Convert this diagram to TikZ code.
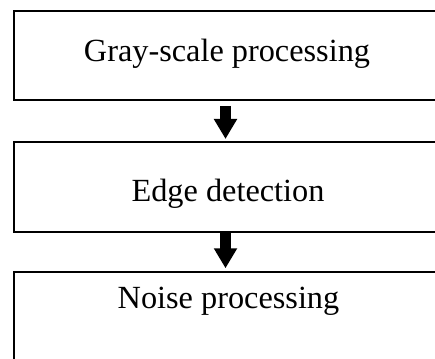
\documentclass[tikz,border=0pt]{standalone}
\usepackage{fontspec}
\setmainfont{Liberation Serif}
\usetikzlibrary{arrows.meta}
\tikzset{
  stage/.style={draw=black, line width=2pt, rectangle, inner sep=0pt},
  label/.style={anchor=base, inner sep=0pt, font=\fontsize{32.3pt}{37pt}\selectfont},
  flow/.style={line width=10.5pt, -{Triangle[width=22pt,length=20pt]}}
}
\begin{document}
\begin{tikzpicture}[x=1pt,y=1pt]
  \useasboundingbox (0,0) rectangle (435,358);
  \clip (0,0) rectangle (435,358);
  % stage boxes (right side and last box run past the frame)
  \node[stage, minimum width=426pt, minimum height=89pt] (gray) at (227,302.5) {};
  \node[stage, minimum width=426pt, minimum height=90pt] (edge) at (227,171) {};
  \node[stage, minimum width=426pt, minimum height=96pt] (noise) at (227,38) {};
  % stage captions
  \node[label] (tgray) at (227,296) {Gray-scale processing};
  \node[label] (tedge) at (228,156) {Edge detection};
  \node[label] (tnoise) at (228.5,50) {Noise processing};
  % block arrows between stages
  \coordinate (a1s) at (225.5,252);
  \coordinate (a1e) at (225.5,219);
  \coordinate (a2s) at (225.5,124.7);
  \coordinate (a2e) at (225.5,89.7);
  \draw[flow] (a1s) -- (a1e);
  \draw[flow] (a2s) -- (a2e);
\end{tikzpicture}
\end{document}
